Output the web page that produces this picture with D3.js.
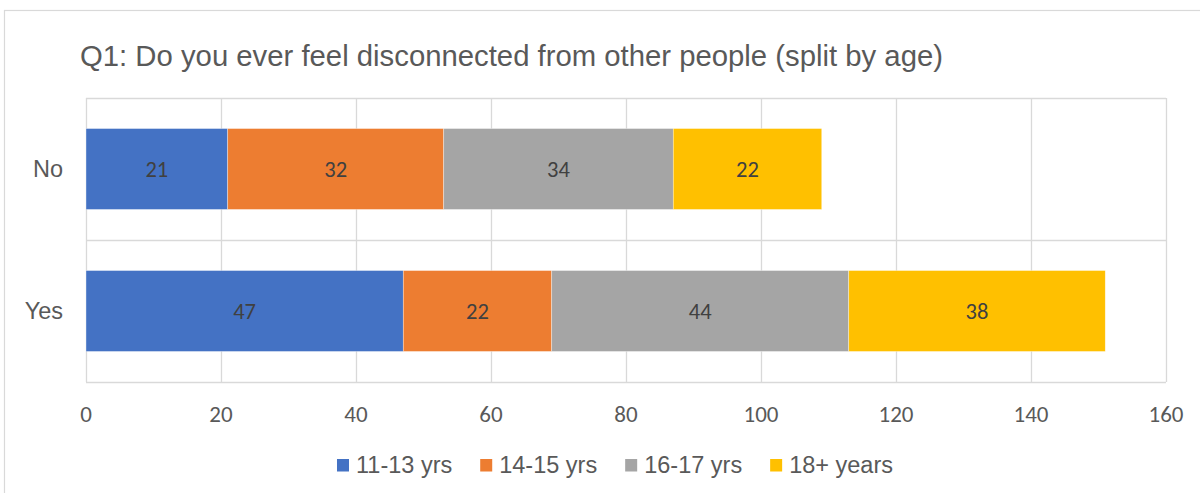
<!DOCTYPE html>
<html><head><meta charset="utf-8">
<script src="https://cdn.jsdelivr.net/npm/d3@7"></script>
<style>html,body{margin:0;padding:0;background:#fff;overflow:hidden}</style>
</head><body><svg id="chart" width="1200" height="493"></svg>
<script>
const categories = ["No", "Yes"];
const seriesNames = ["11-13 yrs", "14-15 yrs", "16-17 yrs", "18+ years"];
const values_11_13 = [21, 47];
const values_14_15 = [32, 22];
const values_16_17 = [34, 44];
const values_18plus = [22, 38];
const xTicks = [0, 20, 40, 60, 80, 100, 120, 140, 160];
const colors = ["#4472C4", "#ED7D31", "#A5A5A5", "#FFC000"];
const title = "Q1: Do you ever feel disconnected from other people (split by age)";

const seriesValues = [values_11_13, values_14_15, values_16_17, values_18plus];
const rows = categories.map((c, i) => {
  const r = {cat: c};
  seriesNames.forEach((s, j) => r[s] = seriesValues[j][i]);
  return r;
});
const stacked = d3.stack().keys(seriesNames)(rows);

const svg = d3.select("#chart");
const numFont = "Carlito, Lato, 'Liberation Sans', sans-serif";
const txtFont = "'Liberation Sans', Arial, sans-serif";

// chart border
svg.append("rect").attr("x", 4.5).attr("y", 10.5).attr("width", 1300).attr("height", 600)
  .attr("fill", "#fff").attr("stroke", "#d9d9d9").attr("stroke-width", 1.2);

const x = d3.scaleLinear().domain([0, 160]).range([86, 1166]);
const y = d3.scaleBand().domain(categories).range([98, 382]).paddingInner(0.43).paddingOuter(0.215);

// title
svg.append("text").attr("x", 80).attr("y", 66).text(title)
  .attr("font-family", txtFont).attr("font-size", 29.5).attr("fill", "#595959")
  .attr("textLength", 863).attr("lengthAdjust", "spacingAndGlyphs");

// vertical gridlines
svg.append("g").selectAll("line").data(xTicks).join("line")
  .attr("x1", d => Math.round(x(d)) + 0.5).attr("x2", d => Math.round(x(d)) + 0.5)
  .attr("y1", 98).attr("y2", 382).attr("stroke", "#d9d9d9").attr("stroke-width", 1.3);

// horizontal category gridlines
const hLines = [98, y.step() + 98, 382];
svg.append("g").selectAll("line").data(hLines).join("line")
  .attr("x1", x(0)).attr("x2", x(160)).attr("y1", d => Math.round(d) + 0.5).attr("y2", d => Math.round(d) + 0.5)
  .attr("stroke", "#d9d9d9").attr("stroke-width", 1.3);

// bars
const groups = svg.append("g").selectAll("g").data(stacked).join("g")
  .attr("fill", (d, i) => colors[i]);
groups.selectAll("rect").data(d => d).join("rect")
  .attr("x", d => x(d[0])).attr("width", d => x(d[1]) - x(d[0]))
  .attr("y", d => y(d.data.cat)).attr("height", y.bandwidth())
  .attr("stroke", "#ffffff").attr("stroke-width", 0.6).attr("stroke-opacity", 0.6);

// data labels
groups.selectAll("text").data(d => d).join("text")
  .attr("x", d => (x(d[0]) + x(d[1])) / 2)
  .attr("y", d => y(d.data.cat) + y.bandwidth() / 2 + 8)
  .attr("text-anchor", "middle").attr("font-family", numFont).attr("font-size", 22.5)
  .attr("fill", "#404040").text(d => d[1] - d[0]);

// category labels
svg.append("g").selectAll("text").data(categories).join("text")
  .attr("x", 63).attr("y", d => y(d) + y.bandwidth() / 2 + 8)
  .attr("text-anchor", "end").attr("font-family", txtFont).attr("font-size", 23.5)
  .attr("fill", "#595959").text(d => d);

// x tick labels
svg.append("g").selectAll("text").data(xTicks).join("text")
  .attr("x", d => x(d)).attr("y", 421.5).attr("text-anchor", "middle")
  .attr("font-family", numFont).attr("font-size", 23).attr("fill", "#595959").text(d => d);

// legend
const legend = svg.append("g");
const items = legend.selectAll("g").data(seriesNames).join("g");
items.append("rect").attr("x", 0).attr("y", 459).attr("width", 12).attr("height", 12.5)
  .attr("fill", (d, i) => colors[i]);
items.append("text").attr("x", 19).attr("y", 473).text(d => d)
  .attr("font-family", txtFont).attr("font-size", 23.5).attr("fill", "#595959");
let cx = 0;
const gap = 28;
const widths = [];
items.each(function() { widths.push(19 + d3.select(this).select("text").node().getComputedTextLength()); });
const total = d3.sum(widths) + gap * (widths.length - 1);
cx = 615 - total / 2;
items.each(function(d, i) { d3.select(this).attr("transform", `translate(${cx},0)`); cx += widths[i] + gap; });
</script>
</body></html>
